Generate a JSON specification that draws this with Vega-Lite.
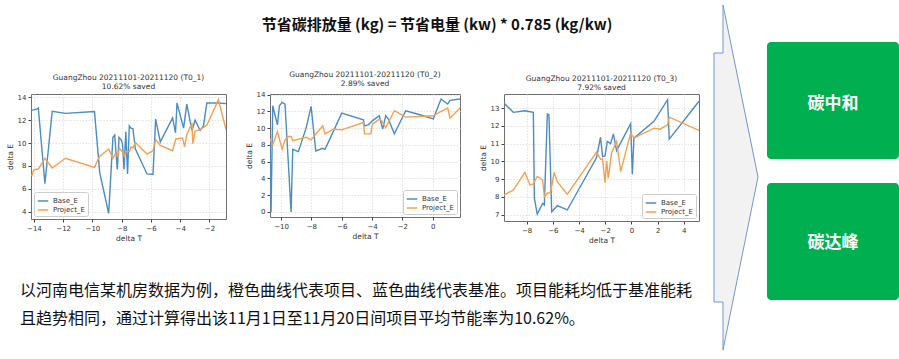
{
  "$schema": "https://vega.github.io/schema/vega-lite/v6.json",
  "padding": 0,
  "background": "white",
  "bounds": "flush",
  "spacing": 44,
  "config": {
    "font": "DejaVu Sans",
    "view": {"stroke": "#707070", "strokeWidth": 1},
    "axis": {"labelFont": "DejaVu Sans", "labelFontSize": 7, "labelColor": "#333", "tickColor": "#444", "tickSize": 3, "domain": false, "gridColor": "#e2e2e2", "gridDash": [1.5, 1.5], "titleFont": "DejaVu Sans", "titleFontSize": 7.5, "titleFontWeight": "normal", "titleColor": "#333", "labelPadding": 2, "titlePadding": 3},
    "legend": {"labelFont": "DejaVu Sans", "labelFontSize": 7, "labelColor": "#333", "symbolType": "stroke", "symbolStrokeWidth": 1.5, "symbolSize": 110, "strokeColor": "#cccccc", "fillColor": "white", "padding": 3, "cornerRadius": 2, "rowPadding": 0, "labelOffset": 4, "offset": 3},
    "title": {"font": "DejaVu Sans", "fontSize": 7.5, "fontWeight": "normal", "color": "#333", "offset": 3, "lineHeight": 9}
  },
  "datasets": {
    "c1": [
      {"s":"Base_E","t":-14.16,"e":12.86},{"s":"Base_E","t":-13.77,"e":12.98},{"s":"Base_E","t":-13.7,"e":13.07},{"s":"Base_E","t":-13.25,"e":6.45},{"s":"Base_E","t":-12.75,"e":12.78},{"s":"Base_E","t":-11.84,"e":12.6},{"s":"Base_E","t":-9.86,"e":12.75},{"s":"Base_E","t":-9.5,"e":7.4},{"s":"Base_E","t":-8.89,"e":3.85},{"s":"Base_E","t":-8.6,"e":10.5},{"s":"Base_E","t":-8.48,"e":10.7},{"s":"Base_E","t":-8.3,"e":7.7},{"s":"Base_E","t":-8.18,"e":10.5},{"s":"Base_E","t":-8.05,"e":10.3},{"s":"Base_E","t":-7.95,"e":10.0},{"s":"Base_E","t":-7.84,"e":7.7},{"s":"Base_E","t":-7.72,"e":11.0},{"s":"Base_E","t":-7.6,"e":7.3},{"s":"Base_E","t":-7.48,"e":11.5},{"s":"Base_E","t":-7.36,"e":11.3},{"s":"Base_E","t":-7.23,"e":11.25},{"s":"Base_E","t":-7.07,"e":9.5},{"s":"Base_E","t":-6.27,"e":7.3},{"s":"Base_E","t":-5.86,"e":7.25},{"s":"Base_E","t":-5.68,"e":12.1},{"s":"Base_E","t":-5.36,"e":10.1},{"s":"Base_E","t":-4.52,"e":12.2},{"s":"Base_E","t":-4.32,"e":10.9},{"s":"Base_E","t":-4.22,"e":13.5},{"s":"Base_E","t":-3.77,"e":11.3},{"s":"Base_E","t":-3.55,"e":13.4},{"s":"Base_E","t":-3.2,"e":11.1},{"s":"Base_E","t":-2.98,"e":12.0},{"s":"Base_E","t":-2.64,"e":11.1},{"s":"Base_E","t":-2.41,"e":11.5},{"s":"Base_E","t":-2.18,"e":13.5},{"s":"Base_E","t":-1.39,"e":13.5},{"s":"Base_E","t":-0.87,"e":13.45},
      {"s":"Project_E","t":-14.16,"e":7.1},{"s":"Project_E","t":-14.0,"e":7.67},{"s":"Project_E","t":-13.7,"e":7.73},{"s":"Project_E","t":-13.25,"e":8.67},{"s":"Project_E","t":-12.75,"e":7.82},{"s":"Project_E","t":-11.84,"e":8.67},{"s":"Project_E","t":-9.86,"e":7.88},{"s":"Project_E","t":-9.52,"e":8.84},{"s":"Project_E","t":-8.89,"e":9.48},{"s":"Project_E","t":-8.61,"e":8.64},{"s":"Project_E","t":-8.45,"e":9.04},{"s":"Project_E","t":-8.27,"e":8.84},{"s":"Project_E","t":-8.16,"e":9.57},{"s":"Project_E","t":-7.93,"e":9.19},{"s":"Project_E","t":-7.82,"e":8.84},{"s":"Project_E","t":-7.7,"e":9.28},{"s":"Project_E","t":-7.48,"e":9.22},{"s":"Project_E","t":-7.36,"e":9.66},{"s":"Project_E","t":-7.23,"e":9.57},{"s":"Project_E","t":-7.07,"e":10.06},{"s":"Project_E","t":-6.27,"e":9.04},{"s":"Project_E","t":-5.86,"e":9.33},{"s":"Project_E","t":-5.68,"e":10.3},{"s":"Project_E","t":-5.36,"e":9.8},{"s":"Project_E","t":-4.52,"e":9.33},{"s":"Project_E","t":-4.3,"e":10.36},{"s":"Project_E","t":-3.84,"e":10.45},{"s":"Project_E","t":-3.7,"e":9.66},{"s":"Project_E","t":-3.55,"e":10.74},{"s":"Project_E","t":-3.2,"e":11.76},{"s":"Project_E","t":-3.14,"e":9.95},{"s":"Project_E","t":-2.98,"e":11.03},{"s":"Project_E","t":-2.64,"e":11.17},{"s":"Project_E","t":-2.18,"e":11.55},{"s":"Project_E","t":-1.39,"e":13.8},{"s":"Project_E","t":-0.87,"e":11.17}
    ],
    "c2": [
      {"s":"Base_E","t":-10.73,"e":8.72},{"s":"Base_E","t":-10.66,"e":0.0},{"s":"Base_E","t":-10.55,"e":12.68},{"s":"Base_E","t":-10.24,"e":10.4},{"s":"Base_E","t":-10.11,"e":12.68},{"s":"Base_E","t":-9.93,"e":13.08},{"s":"Base_E","t":-9.74,"e":12.88},{"s":"Base_E","t":-9.34,"e":0.0},{"s":"Base_E","t":-9.23,"e":7.48},{"s":"Base_E","t":-8.86,"e":7.2},{"s":"Base_E","t":-8.35,"e":10.0},{"s":"Base_E","t":-8.02,"e":12.6},{"s":"Base_E","t":-7.71,"e":7.28},{"s":"Base_E","t":-7.25,"e":7.6},{"s":"Base_E","t":-7.1,"e":7.48},{"s":"Base_E","t":-6.0,"e":11.8},{"s":"Base_E","t":-4.57,"e":11.0},{"s":"Base_E","t":-4.5,"e":10.28},{"s":"Base_E","t":-4.24,"e":10.4},{"s":"Base_E","t":-3.98,"e":10.88},{"s":"Base_E","t":-3.52,"e":11.48},{"s":"Base_E","t":-3.3,"e":9.88},{"s":"Base_E","t":-3.1,"e":11.48},{"s":"Base_E","t":-2.92,"e":11.08},{"s":"Base_E","t":-2.53,"e":9.32},{"s":"Base_E","t":-1.78,"e":12.08},{"s":"Base_E","t":-0.84,"e":11.6},{"s":"Base_E","t":0.04,"e":11.12},{"s":"Base_E","t":0.55,"e":13.48},{"s":"Base_E","t":0.99,"e":12.88},{"s":"Base_E","t":1.14,"e":13.32},{"s":"Base_E","t":1.8,"e":13.48},
      {"s":"Project_E","t":-10.73,"e":8.72},{"s":"Project_E","t":-10.55,"e":8.0},{"s":"Project_E","t":-10.24,"e":9.6},{"s":"Project_E","t":-9.93,"e":7.48},{"s":"Project_E","t":-9.74,"e":8.6},{"s":"Project_E","t":-9.52,"e":9.0},{"s":"Project_E","t":-9.34,"e":9.0},{"s":"Project_E","t":-9.23,"e":8.52},{"s":"Project_E","t":-8.35,"e":8.92},{"s":"Project_E","t":-8.02,"e":8.6},{"s":"Project_E","t":-7.25,"e":10.28},{"s":"Project_E","t":-7.1,"e":9.32},{"s":"Project_E","t":-6.55,"e":9.88},{"s":"Project_E","t":-6.0,"e":9.8},{"s":"Project_E","t":-4.57,"e":10.68},{"s":"Project_E","t":-4.5,"e":9.32},{"s":"Project_E","t":-4.08,"e":9.32},{"s":"Project_E","t":-3.98,"e":10.48},{"s":"Project_E","t":-3.52,"e":11.08},{"s":"Project_E","t":-3.36,"e":10.88},{"s":"Project_E","t":-3.1,"e":10.08},{"s":"Project_E","t":-2.53,"e":12.08},{"s":"Project_E","t":-1.78,"e":11.32},{"s":"Project_E","t":0.04,"e":11.48},{"s":"Project_E","t":0.55,"e":12.0},{"s":"Project_E","t":0.99,"e":12.4},{"s":"Project_E","t":1.14,"e":11.2},{"s":"Project_E","t":1.8,"e":12.4}
    ],
    "c3": [
      {"s":"Base_E","t":-9.73,"e":13.28},{"s":"Base_E","t":-9.02,"e":12.76},{"s":"Base_E","t":-8.13,"e":12.85},{"s":"Base_E","t":-7.49,"e":12.76},{"s":"Base_E","t":-7.41,"e":7.92},{"s":"Base_E","t":-7.19,"e":7.04},{"s":"Base_E","t":-6.78,"e":7.64},{"s":"Base_E","t":-6.65,"e":7.55},{"s":"Base_E","t":-6.42,"e":12.66},{"s":"Base_E","t":-6.3,"e":12.62},{"s":"Base_E","t":-6.09,"e":7.17},{"s":"Base_E","t":-5.66,"e":7.51},{"s":"Base_E","t":-4.9,"e":7.27},{"s":"Base_E","t":-2.66,"e":10.22},{"s":"Base_E","t":-2.36,"e":11.36},{"s":"Base_E","t":-2.2,"e":10.27},{"s":"Base_E","t":-2.02,"e":10.31},{"s":"Base_E","t":-1.84,"e":11.12},{"s":"Base_E","t":-1.59,"e":11.0},{"s":"Base_E","t":-1.38,"e":11.55},{"s":"Base_E","t":-1.13,"e":10.61},{"s":"Base_E","t":-0.06,"e":12.12},{"s":"Base_E","t":0.07,"e":9.28},{"s":"Base_E","t":0.19,"e":11.31},{"s":"Base_E","t":1.72,"e":12.25},{"s":"Base_E","t":2.76,"e":13.47},{"s":"Base_E","t":2.89,"e":11.25},{"s":"Base_E","t":5.16,"e":13.38},
      {"s":"Project_E","t":-9.73,"e":8.11},{"s":"Project_E","t":-9.02,"e":8.39},{"s":"Project_E","t":-8.13,"e":9.39},{"s":"Project_E","t":-7.75,"e":8.68},{"s":"Project_E","t":-7.49,"e":8.73},{"s":"Project_E","t":-7.19,"e":9.15},{"s":"Project_E","t":-6.78,"e":8.96},{"s":"Project_E","t":-6.65,"e":8.02},{"s":"Project_E","t":-6.42,"e":8.21},{"s":"Project_E","t":-6.22,"e":8.24},{"s":"Project_E","t":-6.09,"e":8.58},{"s":"Project_E","t":-5.91,"e":9.39},{"s":"Project_E","t":-5.66,"e":8.86},{"s":"Project_E","t":-4.9,"e":8.15},{"s":"Project_E","t":-2.66,"e":10.52},{"s":"Project_E","t":-2.36,"e":10.12},{"s":"Project_E","t":-2.2,"e":10.14},{"s":"Project_E","t":-2.02,"e":8.81},{"s":"Project_E","t":-1.89,"e":10.03},{"s":"Project_E","t":-1.77,"e":9.05},{"s":"Project_E","t":-1.51,"e":10.5},{"s":"Project_E","t":-1.13,"e":11.12},{"s":"Project_E","t":-0.82,"e":9.43},{"s":"Project_E","t":-0.06,"e":11.59},{"s":"Project_E","t":0.19,"e":11.31},{"s":"Project_E","t":1.72,"e":11.87},{"s":"Project_E","t":2.18,"e":11.81},{"s":"Project_E","t":2.76,"e":12.06},{"s":"Project_E","t":2.89,"e":12.49},{"s":"Project_E","t":5.16,"e":11.74}
    ],
    "arrow": [
      {"o":0,"x":723,"y":5},{"o":1,"x":758,"y":177},{"o":2,"x":723,"y":350},{"o":3,"x":723,"y":302},{"o":4,"x":714,"y":302},{"o":5,"x":714,"y":53},{"o":6,"x":723,"y":53},{"o":7,"x":723,"y":5}
    ],
    "boxes": [
      {"label":"碳中和","x":767,"x2":899,"y":42,"y2":159,"cx":833,"cy":104},
      {"label":"碳达峰","x":767,"x2":899,"y":183,"y2":300,"cx":833,"cy":243}
    ],
    "formula": [{"label":"节省碳排放量 (kg) = 节省电量 (kw) * 0.785 (kg/kw)","x":437,"y":25}],
    "para": [
      {"label":"以河南电信某机房数据为例，橙色曲线代表项目、蓝色曲线代表基准。项目能耗均低于基准能耗","x":20,"y":291},
      {"label":"且趋势相同，通过计算得出该11月1日至11月20日间项目平均节能率为10.62%。","x":20,"y":319}
    ],
    "canvas": [{"x":0,"x2":899,"y":0,"y2":359}]
  },
  "hconcat": [
    {
      "width": 195, "height": 125,
      "data": {"name": "c1"},
      "title": {"text": ["GuangZhou 20211101-20211120 (T0_1)", "10.62% saved"]},
      "mark": {"type": "line", "strokeWidth": 1.4, "clip": true},
      "encoding": {
        "x": {"field": "t", "type": "quantitative", "scale": {"domain": [-14.2, -0.87], "nice": false, "zero": false}, "axis": {"title": "delta T", "values": [-14, -12, -10, -8, -6, -4, -2]}},
        "y": {"field": "e", "type": "quantitative", "scale": {"domain": [3.36, 14.29], "nice": false, "zero": false}, "axis": {"title": "delta E", "values": [4, 6, 8, 10, 12, 14]}},
        "color": {"field": "s", "type": "nominal", "scale": {"domain": ["Base_E", "Project_E"], "range": ["#4a8cc4", "#f5a04e"]}, "legend": {"title": null, "orient": "bottom-left"}}
      }
    },
    {
      "width": 190, "height": 123,
      "data": {"name": "c2"},
      "title": {"text": ["GuangZhou 20211101-20211120 (T0_2)", "2.89% saved"]},
      "mark": {"type": "line", "strokeWidth": 1.4, "clip": true},
      "encoding": {
        "x": {"field": "t", "type": "quantitative", "scale": {"domain": [-10.73, 1.8], "nice": false, "zero": false}, "axis": {"title": "delta T", "values": [-10, -8, -6, -4, -2, 0]}},
        "y": {"field": "e", "type": "quantitative", "scale": {"domain": [-0.6, 14.08], "nice": false, "zero": false}, "axis": {"title": "delta E", "values": [0, 2, 4, 6, 8, 10, 12, 14]}},
        "color": {"field": "s", "type": "nominal", "scale": {"domain": ["Base_E", "Project_E"], "range": ["#4a8cc4", "#f5a04e"]}, "legend": {"title": null, "orient": "bottom-right"}}
      }
    },
    {
      "width": 195, "height": 127,
      "data": {"name": "c3"},
      "title": {"text": ["GuangZhou 20211101-20211120 (T0_3)", "7.92% saved"]},
      "mark": {"type": "line", "strokeWidth": 1.4, "clip": true},
      "encoding": {
        "x": {"field": "t", "type": "quantitative", "scale": {"domain": [-9.73, 5.16], "nice": false, "zero": false}, "axis": {"title": "delta T", "values": [-8, -6, -4, -2, 0, 2, 4]}},
        "y": {"field": "e", "type": "quantitative", "scale": {"domain": [6.65, 13.79], "nice": false, "zero": false}, "axis": {"title": "delta E", "values": [7, 8, 9, 10, 11, 12, 13]}},
        "color": {"field": "s", "type": "nominal", "scale": {"domain": ["Base_E", "Project_E"], "range": ["#4a8cc4", "#f5a04e"]}, "legend": {"title": null, "orient": "bottom-right"}}
      }
    },
    {
      "width": 156, "height": 127,
      "view": {"stroke": null},
      "layer": [
        {
          "data": {"name": "canvas"},
          "mark": {"type": "rect", "fill": "transparent", "stroke": null},
          "encoding": {
            "x": {"field": "x", "type": "quantitative", "scale": {"domain": [743, 899], "nice": false, "zero": false}, "axis": null},
            "x2": {"field": "x2"},
            "y": {"field": "y", "type": "quantitative", "scale": {"domain": [94, 221], "nice": false, "zero": false, "reverse": true}, "axis": null},
            "y2": {"field": "y2"}
          }
        },
        {
          "data": {"name": "arrow"},
          "mark": {"type": "line", "fill": "#f2f2f2", "stroke": "#7396cf", "strokeWidth": 1, "interpolate": "linear"},
          "encoding": {
            "x": {"field": "x", "type": "quantitative", "scale": {"domain": [743, 899], "nice": false, "zero": false}, "axis": null},
            "y": {"field": "y", "type": "quantitative", "scale": {"domain": [94, 221], "nice": false, "zero": false, "reverse": true}, "axis": null},
            "order": {"field": "o", "type": "quantitative"}
          }
        },
        {
          "data": {"name": "boxes"},
          "mark": {"type": "rect", "fill": "#00b050", "cornerRadius": 4},
          "encoding": {
            "x": {"field": "x", "type": "quantitative", "scale": {"domain": [743, 899], "nice": false, "zero": false}, "axis": null},
            "x2": {"field": "x2"},
            "y": {"field": "y", "type": "quantitative", "scale": {"domain": [94, 221], "nice": false, "zero": false, "reverse": true}, "axis": null},
            "y2": {"field": "y2"}
          }
        },
        {
          "data": {"name": "boxes"},
          "mark": {"type": "text", "font": "Noto Sans CJK SC", "fontWeight": "bold", "fontSize": 17, "color": "white", "align": "center", "baseline": "middle"},
          "encoding": {
            "x": {"field": "cx", "type": "quantitative", "scale": {"domain": [743, 899], "nice": false, "zero": false}, "axis": null},
            "y": {"field": "cy", "type": "quantitative", "scale": {"domain": [94, 221], "nice": false, "zero": false, "reverse": true}, "axis": null},
            "text": {"field": "label"}
          }
        },
        {
          "data": {"name": "formula"},
          "mark": {"type": "text", "font": "Noto Sans CJK SC", "fontWeight": "bold", "fontSize": 15, "color": "#111", "align": "center", "baseline": "middle"},
          "encoding": {
            "x": {"field": "x", "type": "quantitative", "scale": {"domain": [743, 899], "nice": false, "zero": false}, "axis": null},
            "y": {"field": "y", "type": "quantitative", "scale": {"domain": [94, 221], "nice": false, "zero": false, "reverse": true}, "axis": null},
            "text": {"field": "label"}
          }
        },
        {
          "data": {"name": "para"},
          "mark": {"type": "text", "font": "Noto Sans CJK SC", "fontSize": 16, "color": "#111", "align": "left", "baseline": "middle"},
          "encoding": {
            "x": {"field": "x", "type": "quantitative", "scale": {"domain": [743, 899], "nice": false, "zero": false}, "axis": null},
            "y": {"field": "y", "type": "quantitative", "scale": {"domain": [94, 221], "nice": false, "zero": false, "reverse": true}, "axis": null},
            "text": {"field": "label"}
          }
        }
      ]
    }
  ]
}
